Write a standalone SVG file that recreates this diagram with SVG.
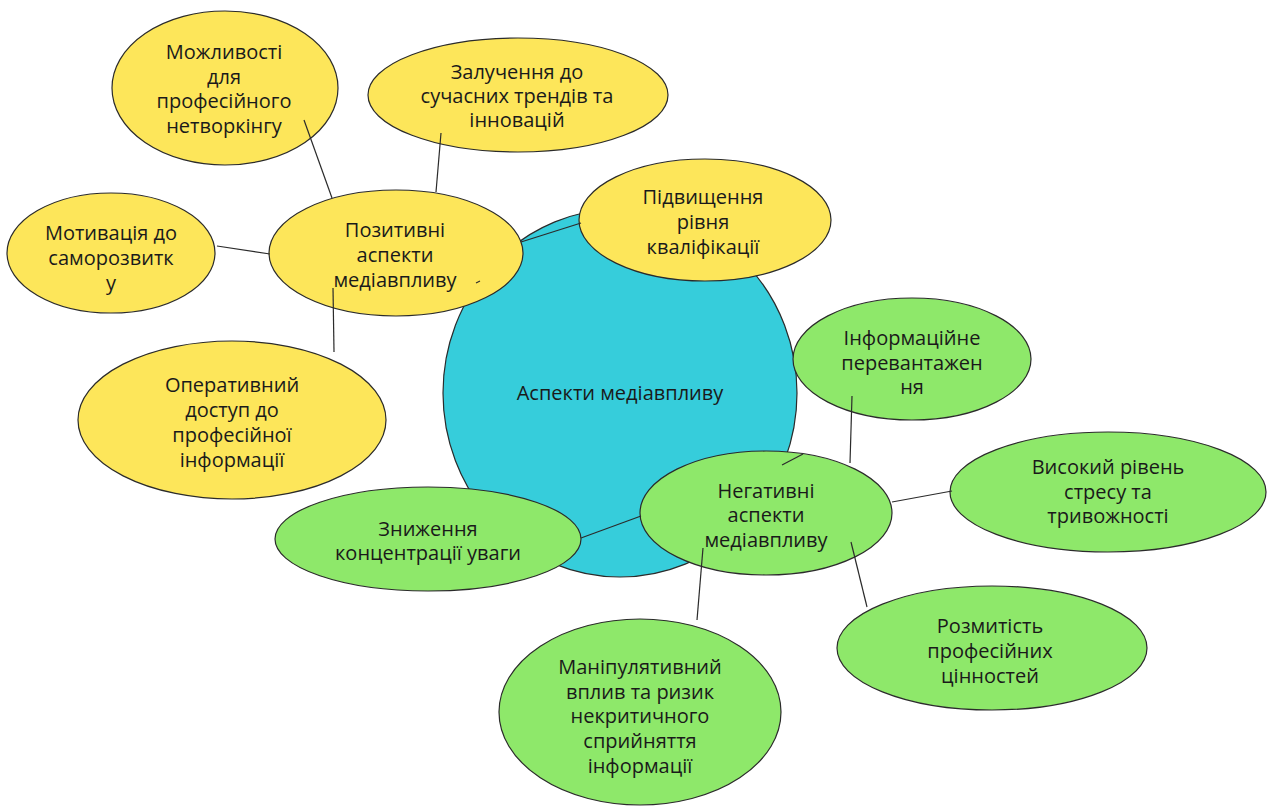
<svg xmlns="http://www.w3.org/2000/svg" width="1270" height="807" viewBox="0 0 1270 807">
<style>
.n{stroke:#2b2b2b;stroke-width:1.2}
.y{fill:#fde65a}
.g{fill:#8ee86a}
.c{fill:#36cddb}
text{font-family:"Open Sans","Noto Sans",sans-serif;font-size:20px;fill:#1a1a1a;text-anchor:middle}
.e line{stroke:#2b2b2b;stroke-width:1.2}
</style>
<rect width="1270" height="807" fill="#ffffff"/>
<g id="center"><ellipse class="n c" cx="620" cy="393" rx="177" ry="184"/><text x="620" y="400">Аспекти медіавпливу</text></g>
<g id="networking"><ellipse class="n y" cx="225" cy="88" rx="113" ry="77"/><text x="224" y="59">Можливості</text><text x="224" y="83.5">для</text><text x="224" y="108">професійного</text><text x="224" y="132.5">нетворкінгу</text></g>
<g id="trends"><ellipse class="n y" cx="518" cy="95" rx="150" ry="57"/><text x="517" y="79">Залучення до</text><text x="517" y="103">сучасних трендів та</text><text x="517" y="127">інновацій</text></g>
<g id="motivation"><ellipse class="n y" cx="111" cy="253" rx="104" ry="60"/><text x="111" y="240">Мотивація до</text><text x="111" y="265">саморозвитк</text><text x="111" y="290">у</text></g>
<g id="positive"><ellipse class="n y" cx="396" cy="253" rx="127" ry="63"/><text x="395" y="237">Позитивні</text><text x="395" y="262">аспекти</text><text x="395" y="287">медіавпливу</text></g>
<g id="qualification"><ellipse class="n y" cx="705" cy="220" rx="126" ry="61"/><text x="703" y="204">Підвищення</text><text x="703" y="229">рівня</text><text x="703" y="254">кваліфікації</text></g>
<g id="access"><ellipse class="n y" cx="232" cy="420" rx="154" ry="79"/><text x="232" y="392">Оперативний</text><text x="232" y="417">доступ до</text><text x="232" y="442">професійної</text><text x="232" y="467">інформації</text></g>
<g id="overload"><ellipse class="n g" cx="912" cy="359" rx="119" ry="61"/><text x="912" y="345">Інформаційне</text><text x="912" y="370">перевантажен</text><text x="912" y="394">ня</text></g>
<g id="stress"><ellipse class="n g" cx="1108" cy="492" rx="158" ry="60"/><text x="1108" y="474">Високий рівень</text><text x="1108" y="499">стресу та</text><text x="1108" y="523">тривожності</text></g>
<g id="concentration"><ellipse class="n g" cx="428" cy="539" rx="153" ry="52"/><text x="428" y="536">Зниження</text><text x="428" y="560">концентрації уваги</text></g>
<g id="negative"><ellipse class="n g" cx="766" cy="513" rx="126" ry="62"/><text x="766" y="498">Негативні</text><text x="766" y="522">аспекти</text><text x="766" y="547">медіавпливу</text></g>
<g id="values"><ellipse class="n g" cx="992" cy="648" rx="155" ry="62"/><text x="990" y="633">Розмитість</text><text x="990" y="658">професійних</text><text x="990" y="683">цінностей</text></g>
<g id="manipulation"><ellipse class="n g" cx="640" cy="712" rx="141" ry="93"/><text x="640" y="674">Маніпулятивний</text><text x="640" y="699">вплив та ризик</text><text x="640" y="723">некритичного</text><text x="640" y="748">сприйняття</text><text x="640" y="773">інформації</text></g>
<g id="connectors" class="e">
<line x1="304" y1="120" x2="332" y2="198"/>
<line x1="441" y1="133" x2="436" y2="192"/>
<line x1="217" y1="246" x2="270" y2="254"/>
<line x1="333" y1="288" x2="334" y2="352"/>
<line x1="521" y1="242" x2="581" y2="223"/>
<line x1="476" y1="283" x2="480" y2="281"/>
<line x1="852" y1="396" x2="850" y2="463"/>
<line x1="782" y1="465" x2="803" y2="454"/>
<line x1="581" y1="538" x2="641" y2="516"/>
<line x1="892" y1="502" x2="952" y2="491"/>
<line x1="703" y1="548" x2="697" y2="620"/>
<line x1="851" y1="542" x2="867" y2="607"/>
</g>
</svg>
